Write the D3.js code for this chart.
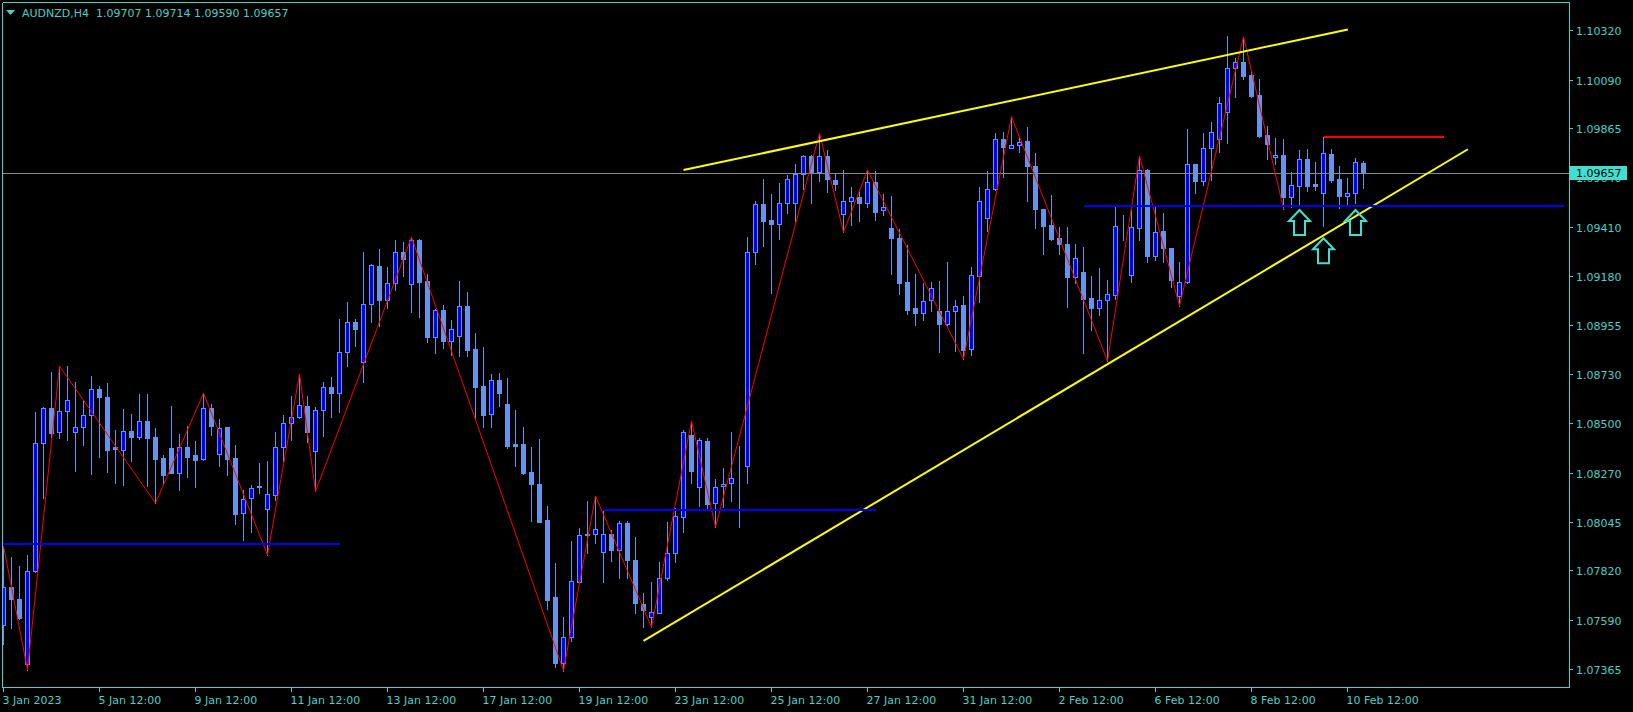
<!DOCTYPE html>
<html><head><meta charset="utf-8">
<script src="https://cdn.jsdelivr.net/npm/d3@7"></script>
<style>html,body{margin:0;padding:0;background:#000;overflow:hidden}svg{display:block}</style>
</head><body>
<svg id="c" width="1633" height="712"></svg>
<script>
// ---------- DATA ----------
const symbol = "AUDNZD,H4";
const opens = [1.07566,1.07742,1.07686,1.07387,1.07819,1.08408,1.08570,1.08459,1.08556,1.08459,
1.08482,1.08538,1.08658,1.08621,1.08390,1.08376,1.08464,1.08436,1.08510,1.08436,
1.08340,1.08385,1.08269,1.08390,1.08353,1.08334,1.08570,1.08357,1.08482,1.08340,
1.08084,1.08154,1.08211,1.08103,1.08170,1.08390,1.08501,1.08531,1.08581,1.08371,
1.08561,1.08669,1.08642,1.08829,1.08968,1.08786,1.09052,1.09227,1.09073,1.09149,
1.09292,1.09144,1.09349,1.09159,1.08902,1.09025,1.08883,1.08906,1.09044,1.08845,
1.08675,1.08542,1.08701,1.08590,1.08405,1.08405,1.08275,1.08220,1.08053,1.07698,
1.07393,1.07510,1.07768,1.07987,1.07987,1.07907,1.07987,1.07914,1.08038,1.07868,
1.07665,1.07603,1.07624,1.07783,1.07902,1.08069,1.08447,1.08205,1.08419,1.08131,
1.08209,1.08223,1.08254,1.08305,1.09295,1.09514,1.09443,1.09425,1.09522,1.09519,
1.09653,1.09738,1.09665,1.09738,1.09627,1.09468,1.09530,1.09547,1.09522,1.09618,
1.09487,1.09403,1.09357,1.09153,1.09033,1.09013,1.09071,1.09022,1.08959,1.09022,
1.09048,1.08843,1.09183,1.09450,1.09584,1.09815,1.09776,1.09787,1.09807,1.09692,
1.09491,1.09419,1.09357,1.09329,1.09179,1.09200,1.09079,1.09036,1.09071,1.09095,
1.09411,1.09187,1.09406,1.09673,1.09276,1.09391,1.09311,1.09090,1.09153,1.09699,
1.09624,1.09776,1.09815,1.09943,1.10144,1.10172,1.10113,1.10020,1.09835,1.09732,
1.09743,1.09550,1.09600,1.09724,1.09608,1.09565,1.09746,1.09631,1.09554,1.09565,
1.09707];
const highs = [1.07933,1.07883,1.07840,1.07890,1.08552,1.08575,1.08738,1.08766,1.08766,1.08692,
1.08610,1.08720,1.08673,1.08689,1.08470,1.08567,1.08545,1.08636,1.08636,1.08478,
1.08354,1.08581,1.08451,1.08488,1.08419,1.08640,1.08590,1.08522,1.08485,1.08399,
1.08192,1.08215,1.08316,1.08326,1.08461,1.08539,1.08627,1.08728,1.08629,1.08578,
1.08692,1.08715,1.08984,1.09061,1.08984,1.09294,1.09237,1.09307,1.09224,1.09349,
1.09340,1.09362,1.09352,1.09192,1.09030,1.09048,1.08979,1.09161,1.09110,1.08920,
1.08855,1.08729,1.08732,1.08712,1.08562,1.08482,1.08393,1.08428,1.08119,1.07856,
1.07606,1.07956,1.08018,1.08141,1.08164,1.08100,1.08007,1.08049,1.08049,1.07976,
1.07717,1.07765,1.07860,1.08045,1.08107,1.08470,1.08511,1.08431,1.08431,1.08243,
1.08293,1.08459,1.08396,1.09364,1.09530,1.09630,1.09562,1.09612,1.09650,1.09699,
1.09743,1.09743,1.09843,1.09766,1.09655,1.09673,1.09596,1.09573,1.09673,1.09668,
1.09562,1.09553,1.09400,1.09326,1.09192,1.09152,1.09153,1.09159,1.09246,1.09071,
1.09090,1.09226,1.09593,1.09670,1.09843,1.09850,1.09920,1.09824,1.09871,1.09750,
1.09493,1.09557,1.09411,1.09411,1.09331,1.09318,1.09183,1.09218,1.09164,1.09506,
1.09465,1.09488,1.09738,1.09676,1.09503,1.09473,1.09312,1.09246,1.09861,1.09701,
1.09846,1.09895,1.10010,1.10293,1.10193,1.10290,1.10128,1.10093,1.09877,1.09820,
1.09817,1.09662,1.09766,1.09770,1.09709,1.09827,1.09770,1.09693,1.09635,1.09727,
1.09714];
const lows = [1.07478,1.07552,1.07595,1.07359,1.07813,1.08156,1.08439,1.08434,1.08424,1.08281,
1.08402,1.08268,1.08346,1.08277,1.08226,1.08217,1.08328,1.08427,1.08212,1.08131,
1.08223,1.08269,1.08192,1.08254,1.08207,1.08331,1.08448,1.08305,1.08263,1.08036,
1.07962,1.07999,1.08177,1.07891,1.08146,1.08328,1.08424,1.08524,1.08416,1.08185,
1.08442,1.08531,1.08555,1.08767,1.08859,1.08693,1.08971,1.08953,1.09036,1.09118,
1.09184,1.09017,1.08994,1.08878,1.08828,1.08851,1.08817,1.08814,1.08814,1.08519,
1.08485,1.08482,1.08581,1.08385,1.08305,1.08265,1.08050,1.08043,1.07640,1.07374,
1.07356,1.07495,1.07762,1.07901,1.07948,1.07768,1.07865,1.07786,1.07786,1.07621,
1.07557,1.07557,1.07621,1.07776,1.07860,1.07995,1.08223,1.08118,1.08107,1.08020,
1.08115,1.08143,1.08022,1.08223,1.09237,1.09321,1.09105,1.09352,1.09475,1.09438,
1.09584,1.09519,1.09624,1.09573,1.09581,1.09385,1.09420,1.09438,1.09503,1.09442,
1.09465,1.09192,1.09099,1.09007,1.08956,1.08979,1.09021,1.08832,1.08956,1.08837,
1.08798,1.08817,1.09064,1.09392,1.09581,1.09642,1.09773,1.09758,1.09531,1.09403,
1.09284,1.09349,1.09283,1.09038,1.09152,1.08825,1.08933,1.09002,1.08789,1.09076,
1.09349,1.09156,1.09349,1.09249,1.09257,1.09249,1.09133,1.09044,1.09150,1.09568,
1.09604,1.09627,1.09758,1.09799,1.10012,1.10094,1.10012,1.09827,1.09723,1.09701,
1.09493,1.09503,1.09511,1.09577,1.09581,1.09415,1.09618,1.09496,1.09511,1.09522,
1.09590];
const closes = [1.07742,1.07686,1.07601,1.07819,1.08408,1.08570,1.08457,1.08556,1.08607,1.08482,
1.08538,1.08658,1.08624,1.08379,1.08380,1.08464,1.08436,1.08510,1.08434,1.08337,
1.08263,1.08272,1.08390,1.08346,1.08332,1.08570,1.08490,1.08478,1.08337,1.08082,
1.08152,1.08200,1.08205,1.08172,1.08390,1.08501,1.08531,1.08584,1.08462,1.08561,
1.08669,1.08642,1.08829,1.08968,1.08939,1.09052,1.09232,1.09073,1.09149,1.09292,
1.09263,1.09349,1.09156,1.08902,1.09025,1.08883,1.08936,1.09044,1.08840,1.08670,
1.08539,1.08701,1.08642,1.08396,1.08396,1.08269,1.08220,1.08045,1.07683,1.07390,
1.07513,1.07772,1.07984,1.07984,1.08010,1.07987,1.07914,1.08038,1.07868,1.07668,
1.07634,1.07626,1.07783,1.07902,1.08072,1.08459,1.08281,1.08422,1.08127,1.08207,
1.08219,1.08246,1.08251,1.09295,1.09514,1.09438,1.09425,1.09519,1.09630,1.09653,
1.09738,1.09665,1.09738,1.09630,1.09607,1.09530,1.09547,1.09522,1.09618,1.09480,
1.09500,1.09357,1.09152,1.09025,1.09013,1.09068,1.09128,1.08959,1.09022,1.09045,
1.08840,1.09187,1.09530,1.09584,1.09815,1.09778,1.09787,1.09801,1.09693,1.09491,
1.09414,1.09354,1.09329,1.09179,1.09264,1.09075,1.09036,1.09071,1.09098,1.09414,
1.09409,1.09408,1.09673,1.09276,1.09388,1.09311,1.09162,1.09153,1.09699,1.09624,
1.09773,1.09848,1.09982,1.10144,1.10172,1.10110,1.10016,1.09830,1.09793,1.09743,
1.09550,1.09604,1.09724,1.09600,1.09600,1.09750,1.09627,1.09554,1.09565,1.09709,
1.09657];

const timeTickBars = [0,12,24,36,48,60,72,84,96,108,120,132,144,156,168];
const timeLabels = ["3 Jan 2023","5 Jan 12:00","9 Jan 12:00","11 Jan 12:00","13 Jan 12:00",
  "17 Jan 12:00","19 Jan 12:00","23 Jan 12:00","25 Jan 12:00","27 Jan 12:00",
  "31 Jan 12:00","2 Feb 12:00","6 Feb 12:00","8 Feb 12:00","10 Feb 12:00"];
const priceTicks = [1.10320,1.10090,1.09865,1.09640,1.09410,1.09180,1.08955,1.08730,
  1.08500,1.08270,1.08045,1.07820,1.07590,1.07365];

// ZigZag swing points: bar index and whether it is a High or Low
const zigzagBars  = [0,3,7,19,25,33,37,39,51,70,74,81,86,89,102,105,108,120,126,138,142,147,155,160];
const zigzagKinds = ["H","L","H","L","H","L","H","L","H","L","H","L","H","L","H","L","H","L","H","L","H","L","H","L"];

// Trend lines: [bar1, price1, bar2, price2]
const upperTrend = [85, 1.09673, 168.05, 1.10323];
const lowerTrend = [80, 1.07493, 183.05, 1.09769];
// Horizontal levels: [barStart, barEnd, price]
const blueLevels = [[-0.4, 42.1, 1.07944],[74.9, 109.05, 1.08100],[135, 195, 1.09506]];
const redLevel   = [165, 180.1, 1.09827];
// Up arrows: bar index and price of arrow tip
const arrowBars   = [162, 165, 169];
const arrowPrices = [1.09488, 1.09357, 1.09488];

// ---------- DRAW ----------
const W = 1633, H = 712;
const plotL = 3, plotT = 3, plotR = 1569, plotB = 687;
const svg = d3.select("#c");
svg.append("rect").attr("width", W).attr("height", H).attr("fill", "#000");

const x = d3.scaleLinear().domain([0, 1]).range([3.5, 11.5]);
const y = d3.scaleLinear().domain([1.07365, 1.10320]).range([668.6, 30.2]);
const py = v => Math.round(y(v));

const AX = "#48d1cc";
const BULL_FILL = "#0000ff", CANDLE = "#6495ed";
const FONT = "'DejaVu Sans', Verdana, sans-serif";

svg.append("defs").append("clipPath").attr("id", "plot")
  .append("rect").attr("x", plotL).attr("y", plotT).attr("width", plotR - plotL).attr("height", plotB - plotT);

const g = svg.append("g").attr("clip-path", "url(#plot)");

const bars = d3.range(opens.length).map(i => ({i, o: opens[i], h: highs[i], l: lows[i], c: closes[i]}));

// wicks
g.append("g").attr("shape-rendering", "crispEdges").selectAll("line").data(bars).join("line")
  .attr("x1", d => x(d.i)).attr("x2", d => x(d.i))
  .attr("y1", d => py(d.h)).attr("y2", d => py(d.l) + 1)
  .attr("stroke", CANDLE).attr("stroke-width", 1);

// bodies
g.append("g").attr("shape-rendering", "crispEdges").selectAll("rect").data(bars).join("rect")
  .attr("x", d => x(d.i) - 2)
  .attr("width", 4)
  .attr("y", d => py(Math.max(d.o, d.c)) + 0.5)
  .attr("height", d => Math.max(0, py(Math.min(d.o, d.c)) - py(Math.max(d.o, d.c))))
  .attr("fill", d => d.c > d.o ? BULL_FILL : CANDLE)
  .attr("stroke", CANDLE).attr("stroke-width", 1);

// bid line
const lastClose = closes[closes.length - 1];
g.append("line").attr("x1", plotL).attr("x2", plotR)
  .attr("y1", Math.floor(y(lastClose)) + 0.5).attr("y2", Math.floor(y(lastClose)) + 0.5)
  .attr("stroke", "#8a8a8a").attr("stroke-width", 1);

// zigzag
const zz = zigzagBars.map((b, k) => [x(b), y(zigzagKinds[k] === "H" ? highs[b] : lows[b])]);
g.append("path").attr("d", d3.line()(zz)).attr("fill", "none").attr("stroke", "#ff0000").attr("stroke-width", 1);

// trend lines
[upperTrend, lowerTrend].forEach(t => {
  g.append("line").attr("x1", x(t[0])).attr("y1", y(t[1])).attr("x2", x(t[2])).attr("y2", y(t[3]))
    .attr("stroke", "#ffff00").attr("stroke-width", 2);
});

// horizontal levels
blueLevels.forEach(lv => {
  g.append("line").attr("x1", x(lv[0])).attr("x2", x(lv[1])).attr("y1", py(lv[2])).attr("y2", py(lv[2]))
    .attr("stroke", "#0000ff").attr("stroke-width", 2).attr("shape-rendering", "crispEdges");
});
g.append("line").attr("x1", x(redLevel[0])).attr("x2", x(redLevel[1])).attr("y1", py(redLevel[2])).attr("y2", py(redLevel[2]))
  .attr("stroke", "#ff0000").attr("stroke-width", 2).attr("shape-rendering", "crispEdges");

// arrows
arrowBars.forEach((b, k) => {
  const cx = x(b), t = y(arrowPrices[k]);
  const p = `M${cx},${t} L${cx+10.5},${t+11} L${cx+5.5},${t+11} L${cx+5.5},${t+25} L${cx-5.5},${t+25} L${cx-5.5},${t+11} L${cx-10.5},${t+11} Z`;
  g.append("path").attr("d", p).attr("fill", "none").attr("stroke", "#40e0d0").attr("stroke-width", 2)
    .attr("stroke-linejoin", "miter");
});

// frame
const fr = svg.append("g").attr("shape-rendering", "crispEdges").attr("stroke", AX).attr("stroke-width", 1);
fr.append("line").attr("x1", 2.5).attr("x2", 2.5).attr("y1", 2.5).attr("y2", plotB + 0.5);
fr.append("line").attr("x1", 2.5).attr("x2", plotR + 0.5).attr("y1", 2.5).attr("y2", 2.5);
fr.append("line").attr("x1", plotR + 0.5).attr("x2", plotR + 0.5).attr("y1", 2.5).attr("y2", plotB + 0.5);
fr.append("line").attr("x1", 2.5).attr("x2", plotR + 0.5).attr("y1", plotB + 0.5).attr("y2", plotB + 0.5);

// price axis
const pa = svg.append("g");
priceTicks.forEach(v => {
  const yy = py(v);
  pa.append("line").attr("x1", plotR + 1).attr("x2", plotR + 4).attr("y1", yy + 0.5).attr("y2", yy + 0.5)
    .attr("stroke", AX).attr("shape-rendering", "crispEdges");
  pa.append("text").attr("x", plotR + 7).attr("y", yy + 4.5).text(v.toFixed(5))
    .attr("fill", AX).attr("font-family", FONT).attr("font-size", 11);
});
// current price box
const by = Math.floor(y(lastClose));
pa.append("rect").attr("x", plotR + 1).attr("y", by - 7).attr("width", 57).attr("height", 14).attr("fill", "#40e0d0");
pa.append("text").attr("x", plotR + 7).attr("y", by + 4).text(lastClose.toFixed(5))
  .attr("fill", "#000").attr("font-family", FONT).attr("font-size", 11);

// time axis
const ta = svg.append("g");
timeTickBars.forEach((b, k) => {
  const xx = Math.floor(x(b)) + 0.5;
  ta.append("line").attr("x1", xx).attr("x2", xx).attr("y1", plotB + 1).attr("y2", plotB + 5)
    .attr("stroke", AX).attr("shape-rendering", "crispEdges");
  ta.append("text").attr("x", xx - 1).attr("y", 704).text(timeLabels[k])
    .attr("fill", AX).attr("font-family", FONT).attr("font-size", 11);
});

// header
svg.append("path").attr("d", "M6,10 L15,10 L10.5,15 Z").attr("fill", AX);
const last = opens.length - 1;
svg.append("text").attr("x", 22).attr("y", 17).style("white-space", "pre")
  .text(`${symbol}  ${opens[last].toFixed(5)} ${highs[last].toFixed(5)} ${lows[last].toFixed(5)} ${closes[last].toFixed(5)}`)
  .attr("fill", AX).attr("font-family", FONT).attr("font-size", 11);
</script>
</body></html>
